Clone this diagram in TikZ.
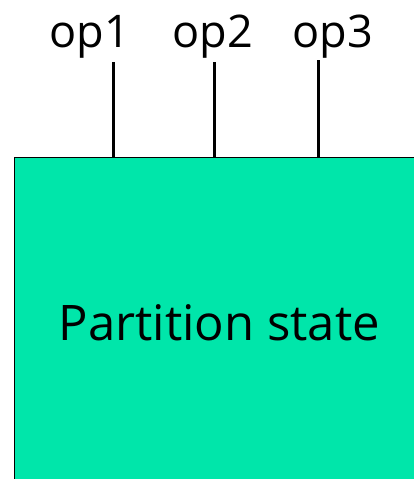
\documentclass[tikz,border=0pt]{standalone}
\usepackage{fontspec}
\setmainfont{Open Sans}
\usetikzlibrary{positioning}
\definecolor{stategreen}{RGB}{0,230,170}
\tikzset{
  oplabel/.style={inner sep=0pt, anchor=base, font=\fontsize{45}{45}\selectfont},
  statebox/.style={draw=black, fill=stategreen, line width=0.8pt, anchor=north west,
    minimum width=410pt, minimum height=330pt, inner sep=0pt,
    font=\fontsize{49}{49}\selectfont},
  oparrow/.style={line width=3pt}
}
\begin{document}
\begin{tikzpicture}[x=1pt,y=-1pt]
  \useasboundingbox (0,0) rectangle (413,479);

  \node[statebox] (state) at (14,157) {Partition state};

  \node[oplabel] (op1) at (90,47) {op1};
  \node[oplabel] (op2) at (213,47) {op2};
  \node[oplabel] (op3) at (333,47) {op3};

  \coordinate (t1) at (113,62);
  \coordinate (t2) at (214,62);
  \coordinate (t3) at (318,60);
  \draw[oparrow] (t1) -- (t1 |- state.north);
  \draw[oparrow] (t2) -- (t2 |- state.north);
  \draw[oparrow] (t3) -- (t3 |- state.north);
\end{tikzpicture}
\end{document}
